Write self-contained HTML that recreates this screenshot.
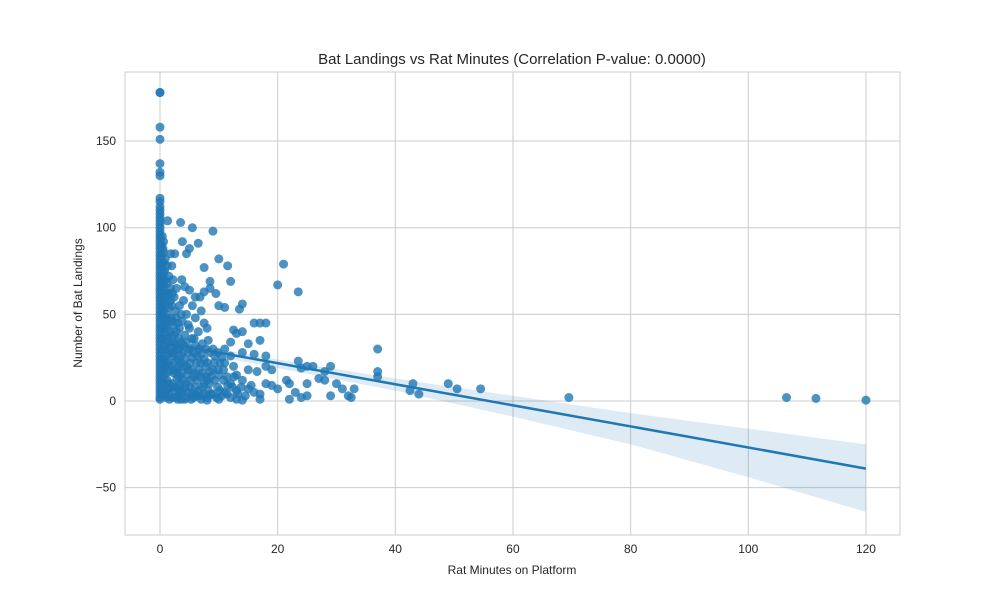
<!DOCTYPE html>
<html><head><meta charset="utf-8"><style>
body{margin:0;background:#fff;font-family:"Liberation Sans",sans-serif}
text{font-family:"Liberation Sans",sans-serif;fill:#262626}
</style></head><body>
<svg id="chart" width="1000" height="600">
<rect x="125" y="72" width="775" height="463" fill="#fff"/>
<g id="grid"></g><g id="band"></g><g id="pts"></g><g id="reg"></g><g id="ticks"></g>
<rect x="125" y="72" width="775" height="463" fill="none" stroke="#cccccc" stroke-width="1"/>
<text x="512" y="64" text-anchor="middle" font-size="15">Bat Landings vs Rat Minutes (Correlation P-value: 0.0000)</text>
<text x="512" y="574" text-anchor="middle" font-size="12">Rat Minutes on Platform</text>
<text x="82" y="303" text-anchor="middle" font-size="12" transform="rotate(-90 82 303)">Number of Bat Landings</text>
</svg>
<script>
const xTicks=[0,20,40,60,80,100,120];
const yTicks=[-50,0,50,100,150];
const yTickLabels=["\u221250","0","50","100","150"];
const col0Y=[178,178,158,151,137,132,130,117,115,112,110,108,106,104,102,100,98,96,94,92,90,88,86,84,82,80,78,76,74,72,70,68,66,64,62,60,58,56,54,52,50,48,46,44,42,40,38,36,34,32,30,28,26,24,22,20,18,16,14,12,10,8,6,4,2,1];
const ptsData="0.4,95;0.5,88;0.6,80;0.8,75;0.4,70;0.7,66;1,62;0.5,58;0.9,55;1.2,50;0.6,47;1,44;1.4,40;0.5,36;0.8,32;1.2,30;1.5,27;0.6,24;1,20;1.5,17;0.5,14;0.9,10;1.3,7;0.6,4;1,2;1.6,1;1.8,85;2,78;2.2,70;1.8,65;2.4,60;2,55;2.6,52;1.9,48;2.3,44;2.8,40;2.1,36;2.5,33;3,30;2.2,26;2.7,23;3.2,20;2.4,16;2.9,13;3.4,10;2.6,6;3.1,3;3.6,1;1.3,104;3.5,103;5.5,100;9,98;3.8,92;6.5,91;5,88;4.5,85;2.5,85;10,82;11.5,78;21,79;20,67;23.5,63;7.5,77;12,69;8.5,69;8.5,65;9.5,62;5,64;6,60;13.5,53;14,56;11,54;10,55;16,45;17,45;18,45;12.5,41;13,39;14,40;15,33;17,35;14,28;16,27;18,26;16.5,17;18,20;20,7;21.5,12;22,10;23,5;23.5,23;24,19;25,10;25,20;26,20;27,13;28,17;29,20;28,12;30,10;31,7;32,3;33,7;32.5,2;29,3;25,3;24,2;22,1;37,30;37,17;37,14;42.5,6;43,10;44,4;49,10;50.5,7;54.5,7;69.5,2;106.5,2;111.5,1.5;120,0.5;14,0.5;17,1;15,7;19,9;17,4;12,2;10,1;8,0.5;11,5;13,6;19,18;18,10;4,58;4.5,50;5.5,55;6,48;7,52;7.5,45;8,42;3.8,46;4.2,38;5,42;5.8,36;6.5,40;7.2,33;8.2,35;9,30;9.8,28;10.5,25;11,22;12,26;12.5,20;13,15;14,12;15,18;4,32;4.8,28;5.5,25;6.2,22;7,27;7.8,20;8.5,17;9.2,22;10,15;10.8,12;11.5,9;12.3,8;4,20;4.6,15;5.2,12;6,8;6.8,14;7.5,10;8.2,6;9,4;9.8,8;10.5,3;3.8,5;4.5,2;5.3,1;6.2,3;7,1;8,12;9,18;3.5,26;3.2,36;3.6,50;4.2,66;6.8,60;7.5,63;11,30;12,34;16,5;14.5,3;13,1;15.5,9;3,45;3.3,55;3.7,70;2.8,65";
const densePts="0.3,90;0.3,84;0.3,78;0.3,72;0.3,66;0.3,60;0.3,54;0.3,48;0.3,42;0.3,36;0.3,30;0.3,24;0.3,18;0.3,12;0.3,6;0.6,92;0.6,86;0.6,74;0.6,68;0.6,62;0.6,52;0.6,42;0.6,30;0.6,18;0.6,10;0.9,82;0.9,70;0.9,60;0.9,48;0.9,38;0.9,26;0.9,15;0.9,5;1.2,78;1.2,68;1.2,58;1.2,44;1.2,36;1.2,22;1.2,12;1.2,3;1.5,72;1.5,62;1.5,54;1.5,46;1.5,34;1.5,22;1.5,10;1.5,4;1.8,58;1.8,40;1.8,30;1.8,20;1.8,8;2.1,62;2.1,46;2.1,28;2.1,18;2.1,10;2.1,2;2.4,38;2.4,28;2.4,8;2.7,48;2.7,32;2.7,18;2.7,2;3,24;3,16;3,8;3,1;3.3,42;3.3,30;3.3,14;3.3,6;3.6,34;3.6,22;3.6,16;3.6,6;3.9,28;3.9,12;4.2,24;4.2,8;4.2,1;4.5,34;4.5,20;4.5,10;4.8,44;4.8,18;4.8,5;5.1,30;5.1,22;5.1,8;5.4,36;5.4,18;5.4,4;5.7,28;5.7,14;5.7,2;6,32;6,16;6,4;6.3,26;6.3,12;6.6,30;6.6,18;6.6,6;6.9,22;6.9,3;7.2,16;7.2,8;7.5,24;7.5,4;7.8,30;7.8,14;8.1,22;8.1,2;8.4,28;8.4,10;8.7,14;8.7,4;9.3,12;9.3,26;9.6,2;9.9,18;10.2,6;10.2,22;10.8,18;11.4,14;11.4,4;12,10;12.6,14;13.2,4;13.8,8";
const pts=(ptsData+";"+densePts).split(";").map(s=>s.split(",").map(Number));
const lineX=[0,120];const lineY=[34,-39];
const bandX=[0,20,40,60,80,100,120];
const bandLo=[32,19,6,-9,-25,-44,-64];
const bandHi=[36,24,13,3,-7,-16,-25];
const X=v=>160+v*5.883, Y=v=>401-v*1.733;
const ns="http://www.w3.org/2000/svg";
function mk(t,a,p){const e=document.createElementNS(ns,t);for(const k in a)e.setAttribute(k,a[k]);p.appendChild(e);return e;}
const g=document.getElementById('grid'),tk=document.getElementById('ticks');
xTicks.forEach(v=>{const l=mk('line',{x1:X(v),x2:X(v),y1:72,y2:535,stroke:'#cccccc'},g);


const t=mk('text',{x:X(v),y:553,'text-anchor':'middle','font-size':12},tk);t.textContent=v;

});
yTicks.forEach((v,i)=>{const l=mk('line',{x1:125,x2:900,y1:Y(v),y2:Y(v),stroke:'#cccccc'},g);


const t=mk('text',{x:116,y:Y(v)+4,'text-anchor':'end','font-size':12},tk);t.textContent=yTickLabels[i];

});
let d='M'+bandX.map((x,i)=>X(x)+','+Y(bandHi[i])).join('L')+'L'+bandX.map((x,i)=>X(x)+','+Y(bandLo[i])).reverse().join('L')+'Z';
const b=mk('path',{d:d,fill:'#1f77b4','fill-opacity':0.15},document.getElementById('band'));


const P=document.getElementById('pts');
col0Y.forEach(y=>{const c=mk('circle',{cx:X(0),cy:Y(y),r:4.5,fill:'#1f77b4','fill-opacity':0.8},P);

});
pts.forEach(([x,y])=>{const c=mk('circle',{cx:X(x),cy:Y(y),r:4.5,fill:'#1f77b4','fill-opacity':0.8},P);

});
const r=mk('line',{x1:X(lineX[0]),y1:Y(lineY[0]),x2:X(lineX[1]),y2:Y(lineY[1]),stroke:'#1f77b4','stroke-width':2.5},document.getElementById('reg'));


</script>
</body></html>
